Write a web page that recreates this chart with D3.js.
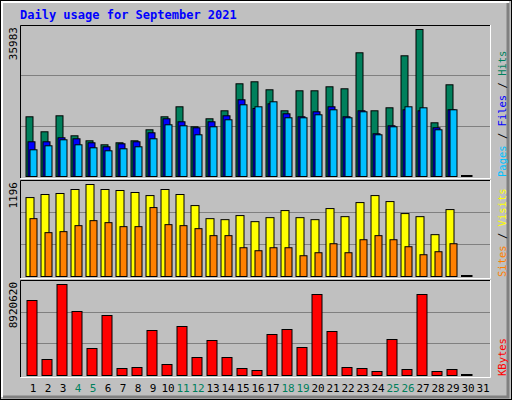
<!DOCTYPE html>
<html><head><meta charset="utf-8">
<script src="https://cdn.jsdelivr.net/npm/d3@7"></script>
<style>body{margin:0;background:#fff}</style></head>
<body><svg id="c" width="512" height="400"></svg>
<script>
const days = d3.range(1, 32);
const weekends = [4,5,11,12,18,19,25,26];
const hits  = [14615,10943,14859,9963,8739,7760,8250,8739,11432,14615,17063,12167,14125,16083,22693,23183,21224,16083,20979,20979,21958,21469,30282,16083,16818,29547,35983,13146,22448,0,null];
const files = [8495,8495,9474,9229,8250,7271,8005,8495,10698,14125,13391,11922,13391,14859,18776,16646,17797,15349,14615,15839,17063,14615,16083,10453,12411,16328,16083,11922,16328,0,null];
const pages = [6536,7515,8984,7760,7026,6291,6781,7271,9229,12656,12411,10208,12167,13880,17552,17063,18287,14370,14370,15104,16328,14370,15839,10208,12167,17063,16818,11432,16328,0,null];
const visits = [1026,1066,1079,1131,1196,1131,1118,1092,1052,1131,1066,922,752,739,792,713,765,857,765,739,883,778,961,1052,974,818,778,544,870,0,null];
const sites  = [752,570,583,661,726,700,648,648,896,674,661,622,531,531,374,335,374,374,270,309,426,309,478,531,478,387,283,322,426,0,null];
const kbytes = [7352100,1568448,8920620,6273792,2646756,5881680,686196,784224,4411260,1078308,4803372,1764504,3430980,1764504,686196,490140,4019148,4509288,2744784,7940268,4313232,784224,686196,392112,3528108,588168,7940268,392112,588168,0,null];
const maxLabels = ["35983","1196","8920620"];

const svg = d3.select("#c");
const mono = "DejaVu Sans Mono, monospace";
svg.append("rect").attr("x",0.5).attr("y",0.5).attr("width",511).attr("height",399).attr("fill","#C0C0C0").attr("stroke","#000");
svg.append("path").attr("d","M2,397V2H509").attr("stroke","#fff").attr("stroke-width",2).attr("fill","none");
svg.append("path").attr("d","M3,397H508V3").attr("stroke","#808080").attr("stroke-width",3).attr("fill","none");

svg.append("text").attr("x",20).attr("y",19).attr("font-family",mono).attr("font-weight","bold").attr("font-size",12).attr("fill","#0000FF").text("Daily usage for September 2021");

const x = d3.scaleLinear().domain([1,31]).range([25.5,475.5]);

const panels = [
  {top:25, base:177, ymax:29, max:35983, series:[{d:hits,c:"#00805C",o:0,w:7},{d:files,c:"#0000FF",o:2,w:7},{d:pages,c:"#00C0FF",o:4,w:7}],
   legend:[["Pages","#00C0FF"],[" / ","#000"],["Files","#0000FF"],[" / ","#000"],["Hits","#00805C"]]},
  {top:180, base:277, ymax:184, max:1196, series:[{d:visits,c:"#FFFF00",o:0,w:8},{d:sites,c:"#FF8000",o:4,w:7}],
   legend:[["Sites","#FF8000"],[" / ","#000"],["Visits","#FFFF00"]]},
  {top:280, base:376, ymax:284, max:8920620, series:[{d:kbytes,c:"#FF0000",o:1,w:10}],
   legend:[["KBytes","#FF0000"]]}
];

panels.forEach((p,pi)=>{
  const y = d3.scaleLinear().domain([0,p.max]).range([p.base-1,p.ymax]);
  const g = svg.append("g");
  g.append("rect").attr("x",20).attr("y",p.top).attr("width",471).attr("height",p.base-p.top+1).attr("fill","#C0C0C0");
  const h3 = (p.base-1-p.ymax);
  // grid lines
  [1,2].forEach(k=>{
    const gy = Math.round(p.base-1 - (p.base-1-p.top)*k/3)+0.5;
    g.append("line").attr("x1",20).attr("x2",491).attr("y1",gy).attr("y2",gy).attr("stroke","#808080");
  });
  g.append("path").attr("d",`M20.5,${p.base+1}V${p.top+0.5}H491`).attr("stroke","#000").attr("fill","none");
  g.append("path").attr("d",`M20.5,${p.base+1.5}H490.5V${p.top}`).attr("stroke","#fff").attr("fill","none");
  p.series.forEach(s=>{
    g.selectAll(null).data(days.filter(d=>s.d[d-1]!==null)).enter().append("rect")
      .attr("x",d=>x(d)+s.o+0.5).attr("width",s.w)
      .attr("y",d=>y(s.d[d-1])+0.5).attr("height",d=>Math.max(0,y(0)-y(s.d[d-1])))
      .attr("fill",s.c).attr("stroke","#000");
  });
  // zero bar marker for day 30
  g.append("line").attr("x1",x(30)+0.5).attr("x2",x(30)+12).attr("y1",p.base-1).attr("y2",p.base-1).attr("stroke","#000").attr("stroke-width",2);
  // max label
  g.append("text").attr("transform",`translate(17,${p.top+2}) rotate(-90)`).attr("text-anchor","end")
    .attr("font-family",mono).attr("font-size",11).attr("fill","#000").text(maxLabels[pi]);
  // legend
  const t = g.append("text").attr("transform",`translate(506,${p.base}) rotate(-90)`).attr("text-anchor","start")
    .attr("font-family",mono).attr("font-size",10.5);
  p.legend.forEach(([s,c])=>t.append("tspan").attr("fill",c).text(s));
});

svg.selectAll(".day").data(days).enter().append("text")
  .attr("x",d=>x(d)+7.5).attr("y",392).attr("text-anchor","middle")
  .attr("font-family",mono).attr("font-size",11)
  .attr("fill",d=>weekends.includes(d)?"#00805C":"#000").text(d=>d);
</script></body></html>
